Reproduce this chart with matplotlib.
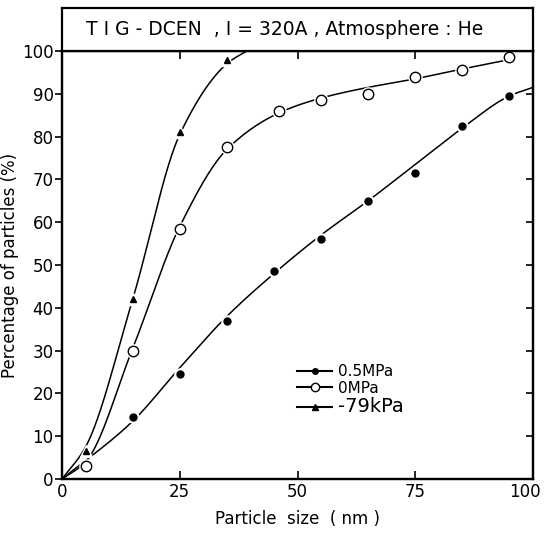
import numpy as np
import matplotlib
matplotlib.use('Agg')
import matplotlib.pyplot as plt
import matplotlib.transforms as mtransforms

# data
x_05 = [15, 25, 35, 45, 55, 65, 75, 85, 95]
y_05 = [14.5, 24.5, 37, 48.5, 56, 65, 71.5, 82.5, 89.5]
x_0 = [5, 15, 25, 35, 46, 55, 65, 75, 85, 95]
y_0 = [3, 30, 58.5, 77.5, 86, 88.5, 90, 94, 95.5, 98.5]
x_79 = [5, 15, 25, 35]
y_79 = [6.5, 42, 81, 98]

# hand drawn fit curves (through origin, ends where the pen stopped)
c05_x = [0, 15, 25, 35, 45, 55, 65, 75, 85, 95, 100]
c05_y = [0, 13.5, 26, 38, 48, 57, 65, 73.5, 82, 89.5, 91.5]
c0_x = [0, 5, 15, 25, 35, 46, 55, 65, 75, 85, 95]
c0_y = [0, 4, 30.5, 59, 77, 85.5, 89, 91.5, 93.5, 95.8, 98]
c79_x = [0, 5, 15, 25, 35, 40]
c79_y = [0, 7.5, 42, 80.5, 97, 100.5]


def pchip(x, y, xn):
    x = np.asarray(x, float)
    y = np.asarray(y, float)
    h = np.diff(x)
    d = np.diff(y) / h
    m = np.zeros_like(y)
    for k in range(1, len(x) - 1):
        if d[k - 1] * d[k] > 0:
            w1 = 2 * h[k] + h[k - 1]
            w2 = h[k] + 2 * h[k - 1]
            m[k] = (w1 + w2) / (w1 / d[k - 1] + w2 / d[k])
    m[0] = d[0]
    m[-1] = d[-1]
    out = np.empty_like(xn)
    for i, xv in enumerate(xn):
        k = min(np.searchsorted(x, xv) - 1, len(x) - 2)
        k = max(k, 0)
        t = (xv - x[k]) / h[k]
        h00 = 2 * t**3 - 3 * t**2 + 1
        h10 = t**3 - 2 * t**2 + t
        h01 = -2 * t**3 + 3 * t**2
        h11 = t**3 - t**2
        out[i] = h00 * y[k] + h10 * h[k] * m[k] + h01 * y[k + 1] + h11 * h[k] * m[k + 1]
    return out


fig = plt.figure(figsize=(5.45, 5.39), dpi=100)
ax = fig.add_axes([0.1138, 0.1113, 0.8642, 0.7941])

for cx, cy in [(c05_x, c05_y), (c0_x, c0_y), (c79_x, c79_y)]:
    xs = np.linspace(cx[0], cx[-1], 300)
    ax.plot(xs, pchip(cx, cy, xs), color='black', lw=1.1, zorder=2)

# white halos -> small gaps in the line around markers
ax.plot(x_05, y_05, 'o', ms=8, color='white', zorder=3)
ax.plot(x_79, y_79, '^', ms=8, color='white', zorder=3)
ax.plot(x_0, y_0, 'o', ms=9.5, color='white', zorder=3)

ax.plot(x_05, y_05, 'o', ms=5, color='black', zorder=4)
ax.plot(x_0, y_0, 'o', ms=7.5, mfc='white', mec='black', mew=1.0, zorder=4)
ax.plot(x_79, y_79, '^', ms=5, color='black', zorder=4)

ax.set_xlim(0, 100)
ax.set_ylim(0, 100)
ax.set_xticks([0, 25, 50, 75, 100])
ax.set_yticks(range(0, 101, 10))
ax.tick_params(axis='x', direction='in', top=True, length=6, width=1.2, labelsize=12, pad=3)
ax.tick_params(axis='y', direction='out', length=5, width=1.2, labelsize=12, pad=1)
ax2 = ax.twinx()
ax2.set_ylim(0, 100)
ax2.set_yticks(range(10, 100, 10))
ax2.tick_params(axis='y', direction='in', length=5, width=1.2, labelright=False)
for a in (ax, ax2):
    for s in a.spines.values():
        s.set_linewidth(1.6)

# nudge the "100" label left so it stays inside the figure
lbl = ax.get_xticklabels()[-1]
lbl.set_transform(lbl.get_transform() +
                  mtransforms.ScaledTranslation(-6 / 72, 0, fig.dpi_scale_trans))

ax.set_xlabel('Particle  size  ( nm )', fontsize=12, labelpad=6)
ax.set_ylabel('Percentage of particles (%)', fontsize=12, labelpad=2)

# legend
ax.plot([], [], 'o-', color='black', ms=4, label='0.5MPa')
ax.plot([], [], 'o-', color='black', ms=6, mfc='white', label='0MPa')
ax.plot([], [], '^-', color='black', ms=4, label='-79kPa')
leg = ax.legend(loc='lower left', bbox_to_anchor=(0.47, 0.115), frameon=False,
                fontsize=11, handlelength=2.3, handletextpad=0.4, labelspacing=0.1)
leg.get_texts()[2].set_fontsize(14)

# title box above the axes
box = fig.add_axes([0.1138, 0.9054, 0.8642, 0.0798])
box.set_xticks([])
box.set_yticks([])
for s in box.spines.values():
    s.set_linewidth(1.6)
box.text(0.05, 0.5, 'T I G - DCEN  , I = 320A , Atmosphere : He', fontsize=13.5,
         va='center', ha='left', transform=box.transAxes)

fig.savefig('out.png', dpi=100)
